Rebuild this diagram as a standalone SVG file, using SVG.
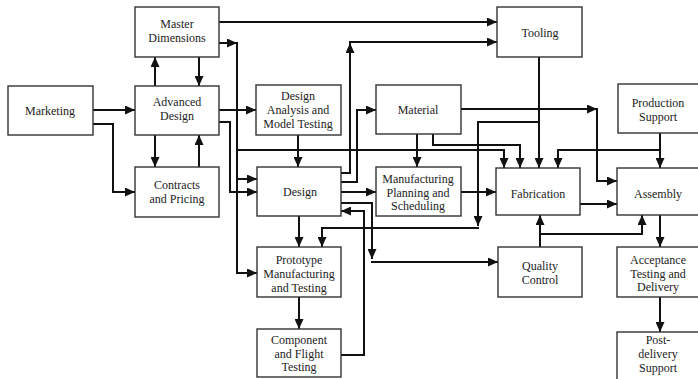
<svg xmlns="http://www.w3.org/2000/svg" width="698" height="379" viewBox="0 0 698 379">
  <style>
    .box { fill: #fff; stroke: #333; stroke-width: 1.4; }
    .lbl { font-family: "Liberation Serif", "Times New Roman", serif; font-size: 12px; fill: #222; text-anchor: middle; }
    .wire { fill: none; stroke: #111; stroke-width: 2; }
    .arr { marker-end: url(#ah); }
  </style>
  <defs>
    <marker id="ah" viewBox="0 0 10 9" refX="10" refY="4.5" markerWidth="10" markerHeight="9" markerUnits="userSpaceOnUse" orient="auto">
      <path d="M0,0 L10,4.5 L0,9 z" fill="#111"/>
    </marker>
  </defs>
  <rect width="698" height="379" fill="#fff"/>

  <!-- connectors -->
  <g id="connectors">
    <path class="wire arr" d="M93,110 H135"/>
    <path class="wire arr" d="M93,124 H113 V192 H135"/>
    <path class="wire arr" d="M155,86 V57"/>
    <path class="wire arr" d="M199,57 V86"/>
    <path class="wire arr" d="M155,135 V167"/>
    <path class="wire arr" d="M199,167 V135"/>
    <path class="wire arr" d="M219,22 H497"/>
    <path class="wire arr" d="M219,43 H237"/>
    <path class="wire arr" d="M237,42 V273 H257"/>
    <path class="wire arr" d="M237,179 H257"/>
    <path class="wire arr" d="M237,150 H504 V168"/>
    <path class="wire arr" d="M219,110 H256"/>
    <path class="wire arr" d="M219,122 H230 V192 H257"/>
    <path class="wire arr" d="M298,135 V167"/>
    <path class="wire arr" d="M341,173 H350 V43"/>
    <path class="wire arr" d="M349,42 H497"/>
    <path class="wire arr" d="M341,182 H357 V110 H376"/>
    <path class="wire arr" d="M341,192 H376"/>
    <path class="wire arr" d="M461,192 H496"/>
    <path class="wire arr" d="M341,203 H372 V259"/>
    <path class="wire arr" d="M371,262 H498"/>
    <path class="wire arr" d="M341,355 H364 V211 H341"/>
    <path class="wire arr" d="M299,216 V247"/>
    <path class="wire arr" d="M299,297 V329"/>
    <path class="wire arr" d="M417,134 V167"/>
    <path class="wire arr" d="M433,134 V145 H520 V168"/>
    <path class="wire arr" d="M461,109 H597"/>
    <path class="wire arr" d="M597,108 V181 H617"/>
    <path class="wire arr" d="M539,57 V168"/>
    <path class="wire arr" d="M539,122 H478 V226"/>
    <path class="wire arr" d="M479,228 H322 V247"/>
    <path class="wire arr" d="M660,133 V168"/>
    <path class="wire arr" d="M660,150 H558 V168"/>
    <path class="wire arr" d="M580,204 H617"/>
    <path class="wire arr" d="M540,247 V215"/>
    <path class="wire arr" d="M540,234 H642 V215"/>
    <path class="wire arr" d="M660,215 V247"/>
    <path class="wire arr" d="M660,297 V332"/>
  </g>

  <g id="master-dimensions">
    <rect class="box" x="135" y="7" width="84" height="50"/>
    <text class="lbl" x="177" y="28">Master</text>
    <text class="lbl" x="177" y="42">Dimensions</text>
  </g>
  <g id="marketing">
    <rect class="box" x="8" y="86" width="85" height="49"/>
    <text class="lbl" x="50" y="115">Marketing</text>
  </g>
  <g id="advanced-design">
    <rect class="box" x="135" y="86" width="84" height="49"/>
    <text class="lbl" x="177" y="106">Advanced</text>
    <text class="lbl" x="177" y="120">Design</text>
  </g>
  <g id="contracts-pricing">
    <rect class="box" x="135" y="167" width="84" height="50"/>
    <text class="lbl" x="177" y="189">Contracts</text>
    <text class="lbl" x="177" y="203">and Pricing</text>
  </g>
  <g id="design-analysis">
    <rect class="box" x="256" y="85" width="85" height="50"/>
    <text class="lbl" x="298" y="100">Design</text>
    <text class="lbl" x="298" y="114">Analysis and</text>
    <text class="lbl" x="298" y="128">Model Testing</text>
  </g>
  <g id="material">
    <rect class="box" x="376" y="85" width="85" height="49"/>
    <text class="lbl" x="418" y="114">Material</text>
  </g>
  <g id="tooling">
    <rect class="box" x="497" y="7" width="85" height="50"/>
    <text class="lbl" x="540" y="37">Tooling</text>
  </g>
  <g id="production-support">
    <rect class="box" x="618" y="84" width="85" height="49"/>
    <text class="lbl" x="658" y="107">Production</text>
    <text class="lbl" x="658" y="121">Support</text>
  </g>
  <g id="design">
    <rect class="box" x="257" y="167" width="84" height="49"/>
    <text class="lbl" x="300" y="196">Design</text>
  </g>
  <g id="mfg-planning">
    <rect class="box" x="376" y="167" width="85" height="49"/>
    <text class="lbl" x="418" y="183">Manufacturing</text>
    <text class="lbl" x="418" y="196.5">Planning and</text>
    <text class="lbl" x="418" y="210">Scheduling</text>
  </g>
  <g id="fabrication">
    <rect class="box" x="496" y="168" width="84" height="47"/>
    <text class="lbl" x="538" y="198">Fabrication</text>
  </g>
  <g id="assembly">
    <rect class="box" x="617" y="168" width="85" height="47"/>
    <text class="lbl" x="658" y="198">Assembly</text>
  </g>
  <g id="prototype">
    <rect class="box" x="257" y="247" width="84" height="50"/>
    <text class="lbl" x="299" y="264">Prototype</text>
    <text class="lbl" x="299" y="278">Manufacturing</text>
    <text class="lbl" x="299" y="292">and Testing</text>
  </g>
  <g id="component-flight">
    <rect class="box" x="257" y="329" width="84" height="48"/>
    <text class="lbl" x="299" y="344">Component</text>
    <text class="lbl" x="299" y="357.5">and Flight</text>
    <text class="lbl" x="299" y="371">Testing</text>
  </g>
  <g id="quality-control">
    <rect class="box" x="498" y="247" width="84" height="50"/>
    <text class="lbl" x="540" y="270">Quality</text>
    <text class="lbl" x="540" y="284">Control</text>
  </g>
  <g id="acceptance">
    <rect class="box" x="617" y="247" width="85" height="50"/>
    <text class="lbl" x="658" y="264">Acceptance</text>
    <text class="lbl" x="658" y="277.5">Testing and</text>
    <text class="lbl" x="658" y="291">Delivery</text>
  </g>
  <g id="post-delivery">
    <rect class="box" x="617" y="332" width="85" height="52"/>
    <text class="lbl" x="658" y="344">Post-</text>
    <text class="lbl" x="658" y="358">delivery</text>
    <text class="lbl" x="658" y="372">Support</text>
  </g>
</svg>
